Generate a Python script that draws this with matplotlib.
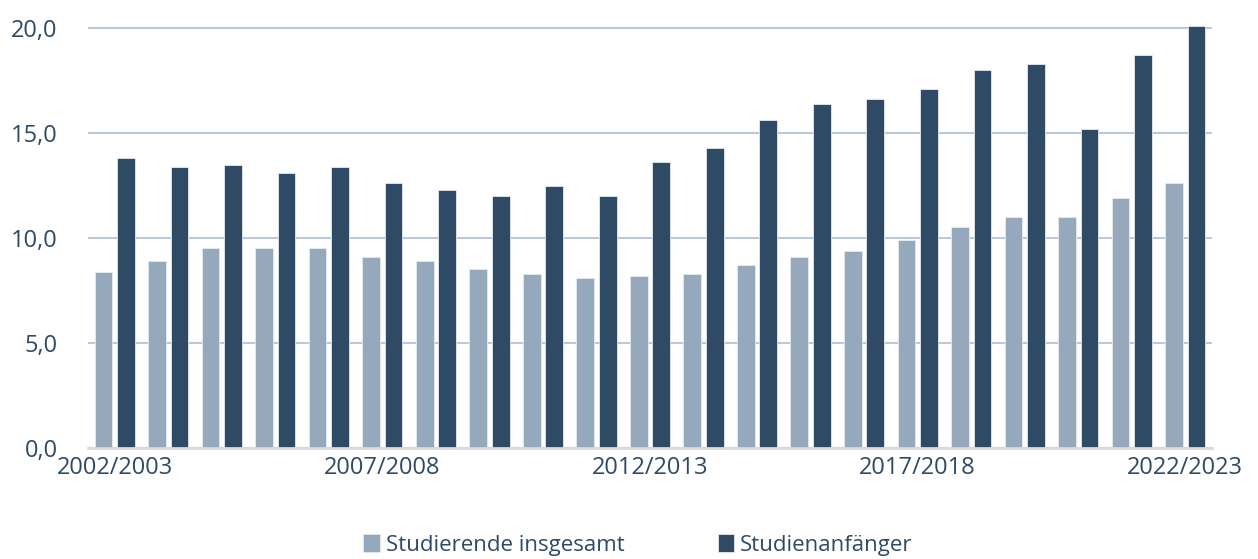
import numpy as np
import matplotlib
matplotlib.use("Agg")
import matplotlib.pyplot as plt

# Werte
semester = ["2002/2003", "2003/2004", "2004/2005", "2005/2006", "2006/2007",
            "2007/2008", "2008/2009", "2009/2010", "2010/2011", "2011/2012",
            "2012/2013", "2013/2014", "2014/2015", "2015/2016", "2016/2017",
            "2017/2018", "2018/2019", "2019/2020", "2020/2021", "2021/2022",
            "2022/2023"]
studierende = [8.4, 8.9, 9.5, 9.5, 9.5, 9.1, 8.9, 8.5, 8.3, 8.1,
               8.2, 8.3, 8.7, 9.1, 9.4, 9.9, 10.5, 11.0, 11.0, 11.9, 12.6]
anfaenger = [13.8, 13.4, 13.5, 13.1, 13.4, 12.6, 12.3, 12.0, 12.5, 12.0,
             13.6, 14.3, 15.6, 16.4, 16.6, 17.1, 18.0, 18.3, 15.2, 18.7, 20.1]
yticks = [0, 5, 10, 15, 20]

light = "#95A8BC"
dark = "#2E4A65"
textcol = "#2E4A65"

plt.rcParams['font.family'] = ['Open Sans', 'DejaVu Sans']

fig = plt.figure(figsize=(12.58, 5.59), dpi=100)
ax = fig.add_axes([0.07, 0.1986, 0.8934, 0.7588])

x = np.arange(len(semester))
w = 0.33
ax.bar(x - 0.21, studierende, w, color=light, edgecolor="#E4EAF0", linewidth=0.6,
       label="Studierende insgesamt", zorder=3)
ax.bar(x + 0.21, anfaenger, w, color=dark, edgecolor="#E4EAF0", linewidth=0.6,
       label="Studienanfänger", zorder=3)

ax.set_xlim(-0.5, len(semester) - 0.5)
ax.set_ylim(0, 20.2)
ax.set_yticks(yticks)
ax.set_yticklabels([f"{v:.1f}".replace(".", ",") for v in yticks])
ax.set_xticks(x[::5])
ax.set_xticklabels(semester[::5])

ax.grid(axis="y", color="#BBCAD8", linewidth=1.5, zorder=0)
for s in ["top", "right", "left"]:
    ax.spines[s].set_visible(False)
ax.spines["bottom"].set_color("#D9D9D9")
ax.spines["bottom"].set_linewidth(2)
ax.spines["bottom"].set_zorder(4)
ax.tick_params(axis="both", length=0, labelsize=17, labelcolor=textcol)
ax.tick_params(axis="y", pad=22)
ax.tick_params(axis="x", pad=6)

fig.legend(loc="lower center", bbox_to_anchor=(0.507, -0.03), ncol=2, frameon=False,
           fontsize=16, labelcolor=textcol, handlelength=0.75, handleheight=0.9,
           handletextpad=0.25, columnspacing=4.2)

fig.savefig("out.png", dpi=100)
